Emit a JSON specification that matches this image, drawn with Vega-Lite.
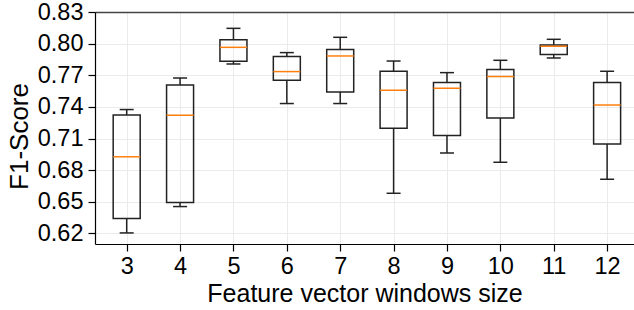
{
  "$schema": "https://vega.github.io/schema/vega-lite/v6.json",
  "width": 539,
  "height": 232,
  "autosize": "none",
  "padding": {"left": 95, "top": 12, "right": 0, "bottom": 66},
  "background": "white",
  "config": {
    "view": {"stroke": null},
    "font": "Liberation Sans",
    "axis": {
      "domainColor": "black",
      "domainWidth": 1.2,
      "tickColor": "black",
      "tickWidth": 1.2,
      "tickSize": 7,
      "gridColor": "#ebebeb",
      "gridWidth": 1
    }
  },
  "data": {
    "values": [
      {"window": 3, "min": 0.6205, "q1": 0.6341, "median": 0.6927, "q3": 0.7324, "max": 0.7375},
      {"window": 4, "min": 0.6455, "q1": 0.6493, "median": 0.7321, "q3": 0.7608, "max": 0.7674},
      {"window": 5, "min": 0.7807, "q1": 0.7833, "median": 0.7965, "q3": 0.8038, "max": 0.8145},
      {"window": 6, "min": 0.7432, "q1": 0.7653, "median": 0.7735, "q3": 0.7877, "max": 0.7915},
      {"window": 7, "min": 0.7432, "q1": 0.7542, "median": 0.7883, "q3": 0.7944, "max": 0.806},
      {"window": 8, "min": 0.6581, "q1": 0.7198, "median": 0.7558, "q3": 0.7738, "max": 0.7835},
      {"window": 9, "min": 0.6963, "q1": 0.7128, "median": 0.7577, "q3": 0.7631, "max": 0.7725},
      {"window": 10, "min": 0.6875, "q1": 0.7295, "median": 0.7688, "q3": 0.7754, "max": 0.7842},
      {"window": 11, "min": 0.7864, "q1": 0.7896, "median": 0.7975, "q3": 0.7987, "max": 0.8041},
      {"window": 12, "min": 0.6714, "q1": 0.7049, "median": 0.7418, "q3": 0.7631, "max": 0.7738}
    ]
  },
  "layer": [
    {
      "mark": {"type": "rule", "color": "#222", "strokeWidth": 1.5},
      "encoding": {
        "x": {
          "field": "window", "type": "quantitative",
          "scale": {"domain": [2.5, 12.41], "nice": false, "zero": false},
          "axis": {
            "orient": "bottom",
            "values": [3, 4, 5, 6, 7, 8, 9, 10, 11, 12],
            "title": "Feature vector windows size",
            "grid": true,
            "labelFont": "Liberation Sans",
            "titleFont": "Liberation Sans",
            "labelFontSize": 23.5,
            "titleFontSize": 25,
            "labelColor": "black",
            "titleColor": "black",
            "titleFontWeight": "normal",
            "labelOverlap": false,
            "labelPadding": 3,
            "titlePadding": 4,
            "labelFlush": false
          }
        },
        "y": {
          "field": "min", "type": "quantitative",
          "scale": {"domain": [0.61, 0.83], "nice": false, "zero": false},
          "axis": {
            "orient": "left",
            "values": [0.62, 0.65, 0.68, 0.71, 0.74, 0.77, 0.8, 0.83],
            "format": ".2f",
            "title": "F1-Score",
            "grid": true,
            "labelFont": "Liberation Sans",
            "titleFont": "Liberation Sans",
            "labelFontSize": 23.5,
            "titleFontSize": 26,
            "labelColor": "black",
            "titleColor": "black",
            "titleFontWeight": "normal",
            "labelOverlap": false,
            "labelPadding": 5,
            "titlePadding": 5,
            "titleY": 124,
            "labelFlush": false
          }
        },
        "y2": {"field": "q1"}
      }
    },
    {
      "mark": {"type": "rule", "color": "#222", "strokeWidth": 1.5},
      "encoding": {
        "x": {
          "field": "window", "type": "quantitative",
          "scale": {"domain": [2.5, 12.41], "nice": false, "zero": false},
          "axis": {
            "orient": "top",
            "labels": false,
            "ticks": false,
            "grid": false,
            "title": null,
            "domainColor": "#444444",
            "domainWidth": 1.5
          }
        },
        "y": {
          "field": "q3", "type": "quantitative",
          "scale": {"domain": [0.61, 0.83], "nice": false, "zero": false},
          "axis": null
        },
        "y2": {"field": "max"}
      }
    },
    {
      "mark": {"type": "bar", "size": 27, "fill": "white", "fillOpacity": 0, "stroke": "#222", "strokeWidth": 1.5},
      "encoding": {
        "x": {"field": "window", "type": "quantitative", "scale": {"domain": [2.5, 12.41], "nice": false, "zero": false}, "axis": null},
        "y": {"field": "q1", "type": "quantitative", "scale": {"domain": [0.61, 0.83], "nice": false, "zero": false}, "axis": null},
        "y2": {"field": "q3"}
      }
    },
    {
      "mark": {"type": "tick", "orient": "horizontal", "size": 27, "thickness": 1.5, "color": "#ff7f0e", "opacity": 1},
      "encoding": {
        "x": {"field": "window", "type": "quantitative", "scale": {"domain": [2.5, 12.41], "nice": false, "zero": false}, "axis": null},
        "y": {"field": "median", "type": "quantitative", "scale": {"domain": [0.61, 0.83], "nice": false, "zero": false}, "axis": null}
      }
    },
    {
      "mark": {"type": "tick", "orient": "horizontal", "size": 14, "thickness": 1.5, "color": "#222", "opacity": 1},
      "encoding": {
        "x": {"field": "window", "type": "quantitative", "scale": {"domain": [2.5, 12.41], "nice": false, "zero": false}, "axis": null},
        "y": {"field": "min", "type": "quantitative", "scale": {"domain": [0.61, 0.83], "nice": false, "zero": false}, "axis": null}
      }
    },
    {
      "mark": {"type": "tick", "orient": "horizontal", "size": 14, "thickness": 1.5, "color": "#222", "opacity": 1},
      "encoding": {
        "x": {"field": "window", "type": "quantitative", "scale": {"domain": [2.5, 12.41], "nice": false, "zero": false}, "axis": null},
        "y": {"field": "max", "type": "quantitative", "scale": {"domain": [0.61, 0.83], "nice": false, "zero": false}, "axis": null}
      }
    }
  ],
  "resolve": {"axis": {"x": "independent", "y": "independent"}}
}
